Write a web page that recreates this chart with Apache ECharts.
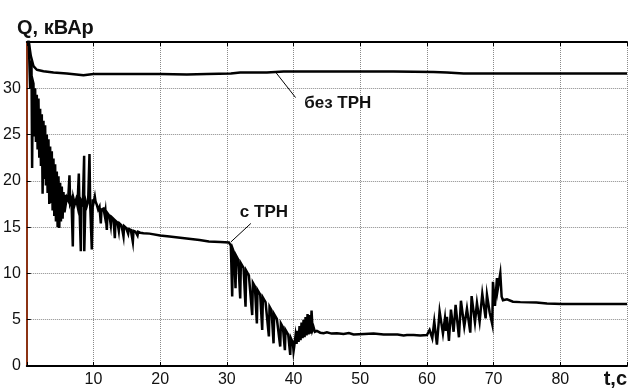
<!DOCTYPE html>
<html>
<head>
<meta charset="utf-8">
<script src="https://cdn.jsdelivr.net/npm/echarts@6/dist/echarts.min.js"></script>
<style>html,body{margin:0;padding:0;background:#fff}#c{width:630px;height:390px}</style>
</head>
<body>
<div id="c"></div>
<script>
// ---- data ----
const xTicks = [10, 20, 30, 40, 50, 60, 70, 80];
const yTicks = [0, 5, 10, 15, 20, 25, 30];

// "без ТРН" curve
const tWithout = [0, 0.3, 0.6, 1.0, 1.5, 2.5, 4, 6, 8.5, 10, 20, 24, 27, 30.6, 32, 36, 38.5, 45, 55, 61, 63, 65.5, 70, 80, 90];
const qWithout = [36, 35, 33.5, 32.4, 32.0, 31.85, 31.7, 31.6, 31.4, 31.55, 31.55, 31.5, 31.55, 31.6, 31.7, 31.7, 31.8, 31.8, 31.8, 31.75, 31.7, 31.6, 31.6, 31.6, 31.6];

// "с ТРН" curve
const tWith = [
  0, 0.3, 0.5, 0.7, 0.8, 0.9,
  1.00, 1.12, 1.25, 1.37, 1.50, 1.62, 1.75, 1.87, 2.00, 2.12, 2.25, 2.37, 2.50, 2.62, 2.75, 2.87,
  3.00, 3.12, 3.25, 3.37, 3.50, 3.62, 3.75, 3.87, 4.00, 4.12, 4.25, 4.37, 4.50, 4.62, 4.75, 4.87,
  5.00, 5.12, 5.25, 5.37, 5.50, 5.62, 5.75, 5.87, 6.00,
  6.2, 6.4, 6.5, 6.7, 6.9, 7.0, 7.2, 7.4, 7.6, 7.8, 7.9, 8.1, 8.2, 8.4, 8.6, 8.62, 8.8, 9.0, 9.2, 9.4, 9.5, 9.75, 9.9, 10.0, 10.2,
  10.3, 10.5, 10.7, 10.9, 11.1, 11.2, 11.5, 11.7, 11.8, 12.0, 12.1, 12.4, 12.6, 12.7, 13.0, 13.2, 13.3, 13.6, 13.8, 13.9,
  14.2, 14.5, 14.6, 14.9, 15.2, 15.3, 15.6, 15.9, 16.0, 16.3, 16.6, 16.7, 17.0, 17.5, 18.4, 20, 21.4, 23, 25.9, 27.3, 29, 30.3,
  30.4, 30.6, 30.8, 30.9, 31.1, 31.3, 31.4, 31.7, 32.0, 32.1, 32.5, 32.8, 32.9, 33.3, 33.8, 33.9, 34.2, 34.5, 34.6, 35.0,
  35.3, 35.4, 35.8, 36.3, 36.4, 36.7, 37.0, 37.1, 37.5, 38.0, 38.1, 38.4, 38.7, 38.8, 39.2, 39.5, 39.6, 39.9, 40.0,
  40.1, 40.3, 40.45, 40.6, 40.75, 40.9, 41.05, 41.2, 41.35, 41.5, 41.65, 41.8, 41.95, 42.1, 42.25, 42.4, 42.55, 42.7, 42.85,
  43.0, 43.2, 43.5, 44, 44.5, 45, 45.7, 46.5, 47.5, 48.3, 49, 50.6, 52, 53.5, 55.6, 56.5, 57, 58, 59, 60,
  60.4, 60.8, 61.1, 61.5, 61.9, 62.4, 62.7, 62.85, 63.0, 63.3, 63.6, 64.0, 64.3, 64.8, 65.1, 65.6, 66.0, 66.5, 66.7, 67.2,
  67.5, 67.9, 68.3, 68.8, 69.0, 69.4, 69.8, 69.9, 70.2, 70.5, 70.6, 71.0, 71.2, 71.4, 72, 72.9, 74, 76.4, 78, 80.3, 85, 90
];
const qWith = [
  36, 35, 30, 33, 21.4, 30.8,
  30.5, 24.8, 30.0, 24.2, 29.3, 23.4, 28.9, 22.5, 27.8, 21.6, 27.2, 18.6, 26.5, 20.2, 26.0, 19.5,
  25.0, 18.7, 24.5, 17.5, 23.7, 17.6, 23.2, 16.8, 22.4, 16.2, 21.8, 15.6, 21.0, 15.0, 20.5, 14.9,
  19.8, 15.6, 19.4, 15.9, 18.8, 16.6, 18.5, 17.6, 18.2,
  17.9, 20.6, 17.6, 18.0, 12.9, 18.1, 17.5, 18.0, 17.3, 20.8, 17.2, 12.4, 17.8, 17.5, 22.7, 12.4, 17.9, 17.3, 17.8, 22.9, 17.5, 12.6, 18.0, 17.6, 18.3,
  17.8, 17.4, 16.9, 17.2, 15.4, 16.9, 17.0, 16.2, 16.7, 14.7, 16.5, 16.2, 15.2, 16.1, 15.9, 13.8, 15.7, 15.5, 14.6, 15.4,
  15.2, 14.0, 15.1, 14.9, 14.3, 14.8, 14.7, 13.4, 14.6, 14.5, 14.1, 14.5, 14.4, 14.35, 14.3, 14.1, 14.0, 13.85, 13.6, 13.45, 13.4, 13.35,
  13.3, 13.0, 7.5, 12.6, 12.2, 8.4, 11.9, 11.5, 7.3, 11.1, 10.6, 6.4, 10.3, 9.8, 5.5, 9.0, 8.6, 4.6, 8.2, 7.7,
  3.9, 7.4, 6.9, 3.2, 6.4, 6.0, 2.45, 5.6, 5.1, 2.1, 4.6, 4.2, 1.7, 3.9, 3.4, 1.2, 3.0, 2.5, 1.6,
  2.1, 3.3, 2.4, 3.8, 2.6, 4.3, 2.8, 4.7, 3.0, 5.0, 3.1, 5.3, 3.3, 5.6, 3.4, 5.5, 3.5, 6.0, 3.9,
  4.2, 3.7, 3.8, 3.6, 3.55, 3.65, 3.5, 3.55, 3.45, 3.55, 3.4, 3.45, 3.5, 3.4, 3.4, 3.3, 3.35, 3.35, 3.3, 3.35,
  3.9, 3.0, 4.8, 2.3, 5.9, 3.5, 5.15, 3.8, 5.3, 2.7, 6.1, 3.7, 6.6, 3.1, 7.05, 4.25, 6.2, 3.6, 7.55, 4.7,
  6.8, 4.8, 7.8, 5.15, 7.7, 5.8, 4.5, 9.1, 6.5, 9.5, 8.2, 10.0, 7.5, 7.1, 7.2, 6.95, 6.9, 6.85, 6.75, 6.7, 6.7, 6.7
];

// annotation anchors in data units: [curve point t,Q], [line end t,Q], [text left t, text middle Q]
const noteWithout = { text: 'без ТРН', from: [37.3, 31.75], to: [40.3, 29.0], at: [41.6, 28.36] };
const noteWith = { text: 'с ТРН', from: [30.6, 13.4], to: [33.6, 15.4], at: [31.95, 16.58] };

const zip = (a, b) => a.map((v, i) => [v, b[i]]);

const chart = echarts.init(document.getElementById('c'), null, { renderer: 'canvas' });
const FONT = 'Arial, "Liberation Sans", sans-serif';
const gridLine = { show: true, lineStyle: { type: 'dotted', color: '#8a8a8a', width: 1 } };

chart.setOption({
  animation: false,
  backgroundColor: '#fff',
  title: {
    text: 'Q, кВАр', left: 12, top: 13,
    textStyle: { fontSize: 20, fontWeight: 'bold', color: '#111', fontFamily: FONT }
  },
  grid: { left: 26, top: 42, width: 605, height: 324, containLabel: false },
  xAxis: [
    {
      type: 'value', min: 0, max: 90, interval: 10, position: 'bottom',
      axisLine: { show: true, onZero: false, lineStyle: { color: '#000', width: 2 } },
      axisTick: { show: true, inside: true, length: 4, lineStyle: { color: '#000' } },
      axisLabel: {
        fontSize: 16, color: '#111', fontFamily: FONT, margin: 6,
        formatter: v => xTicks.indexOf(v) >= 0 ? String(v) : ''
      },
      splitLine: gridLine
    },
    {
      type: 'value', min: 0, max: 90, interval: 10, position: 'top',
      axisLine: { show: true, onZero: false, lineStyle: { color: '#000', width: 2 } },
      axisTick: { show: true, inside: true, length: 4, lineStyle: { color: '#000' } },
      axisLabel: { show: false }, splitLine: { show: false }
    }
  ],
  yAxis: {
    type: 'value', min: 0, max: 35, interval: 5,
    axisLine: { show: true, onZero: false, lineStyle: { color: '#8c3214', width: 2 } },
    axisTick: { show: true, inside: true, length: 4, lineStyle: { color: '#000' } },
    axisLabel: {
      fontSize: 16, color: '#111', fontFamily: FONT, margin: 6,
      formatter: v => yTicks.indexOf(v) >= 0 ? String(v) : ''
    },
    splitLine: gridLine
  },
  series: [
    {
      name: 'без ТРН', type: 'line', data: zip(tWithout, qWithout), showSymbol: false, clip: true,
      lineStyle: { color: '#000', width: 2.5 }, z: 3
    },
    {
      name: 'с ТРН', type: 'line', data: zip(tWith, qWith), showSymbol: false, clip: true,
      lineStyle: { color: '#000', width: 2.5, join: 'miter' }, z: 3
    }
  ]
});

function px(p) { return chart.convertToPixel({ xAxisIndex: 0, yAxisIndex: 0 }, p); }
const g = [];
[noteWithout, noteWith].forEach(n => {
  const a = px(n.from), b = px(n.to), c = px(n.at);
  g.push({ type: 'line', shape: { x1: a[0], y1: a[1], x2: b[0], y2: b[1] }, style: { stroke: '#000', lineWidth: 1 }, z: 10 });
  g.push({ type: 'text', x: c[0], y: c[1], style: { text: n.text, fill: '#111', font: 'bold 17px ' + FONT, align: 'left', verticalAlign: 'middle' }, z: 10 });
});
g.push({ type: 'text', right: 3, top: 369, style: { text: 't,c', fill: '#111', font: 'bold 20px ' + FONT } , z: 10});
chart.setOption({ graphic: g });
</script>
</body>
</html>
